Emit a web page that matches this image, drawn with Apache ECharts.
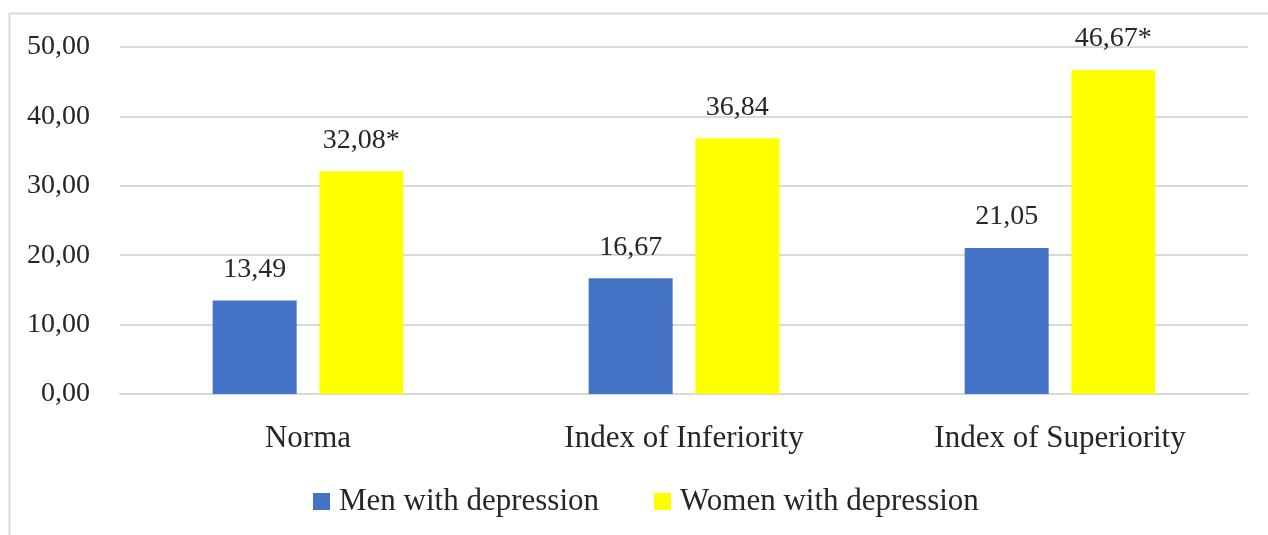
<!DOCTYPE html>
<html>
<head>
<meta charset="utf-8">
<script src="https://cdn.jsdelivr.net/npm/echarts@6/dist/echarts.min.js"></script>
<style>
  html, body { margin: 0; padding: 0; background: #fff; }
  #chart { width: 1268px; height: 535px; }
</style>
</head>
<body>
<div id="chart"></div>
<script>
// Share of respondents with depression, by index group
const categories = ['Norma', 'Index of Inferiority', 'Index of Superiority'];
const menValues = [13.49, 16.67, 21.05];
const womenValues = [32.08, 36.84, 46.67];
// asterisk marks a significant difference
const menMarks = ['', '', ''];
const womenMarks = ['*', '', '*'];
const seriesNames = ['Men with depression', 'Women with depression'];

const FONT = '"Liberation Serif", "DejaVu Serif", serif';
const TEXT = '#262626';
const fmt = v => v.toFixed(2).replace('.', ',');

const chart = echarts.init(document.getElementById('chart'), null, { renderer: 'canvas' });

function barSeries(name, values, marks, color) {
  return {
    name: name,
    type: 'bar',
    data: values,
    barWidth: 84,
    barGap: '27%',
    itemStyle: { color: color },
    label: {
      show: true,
      position: 'top',
      distance: 17,
      fontFamily: FONT,
      fontSize: 28,
      color: TEXT,
      formatter: p => fmt(p.value) + marks[p.dataIndex]
    }
  };
}

chart.setOption({
  animation: false,
  backgroundColor: '#fff',
  textStyle: { fontFamily: FONT },
  graphic: [
    { type: 'line', shape: { x1: 9, y1: 13.5, x2: 1268, y2: 13.5 }, style: { stroke: '#d9d9d9', lineWidth: 2 } },
    { type: 'line', shape: { x1: 9.5, y1: 13, x2: 9.5, y2: 535 }, style: { stroke: '#d9d9d9', lineWidth: 2 } }
  ],
  grid: { left: 120, right: 20, top: 47, bottom: 141, containLabel: false },
  legend: {
    data: seriesNames,
    left: 308,
    top: 481,
    itemWidth: 17,
    itemHeight: 17,
    itemGap: 55,
    icon: 'rect',
    textStyle: { fontFamily: FONT, fontSize: 31, color: TEXT, padding: [0, 0, 0, 4] }
  },
  xAxis: {
    type: 'category',
    data: categories,
    axisLine: { show: true, lineStyle: { color: '#d9d9d9', width: 2 } },
    axisTick: { show: false },
    axisLabel: { fontFamily: FONT, fontSize: 31, color: TEXT, margin: 29 }
  },
  yAxis: {
    type: 'value',
    min: 0,
    max: 50,
    interval: 10,
    axisLine: { show: false },
    axisTick: { show: false },
    splitLine: { lineStyle: { color: '#d9d9d9', width: 2 } },
    axisLabel: { fontFamily: FONT, fontSize: 28, color: TEXT, margin: 30, formatter: v => fmt(v) }
  },
  series: [
    barSeries(seriesNames[0], menValues, menMarks, '#4472C4'),
    barSeries(seriesNames[1], womenValues, womenMarks, '#FFFF00')
  ]
});
</script>
</body>
</html>
